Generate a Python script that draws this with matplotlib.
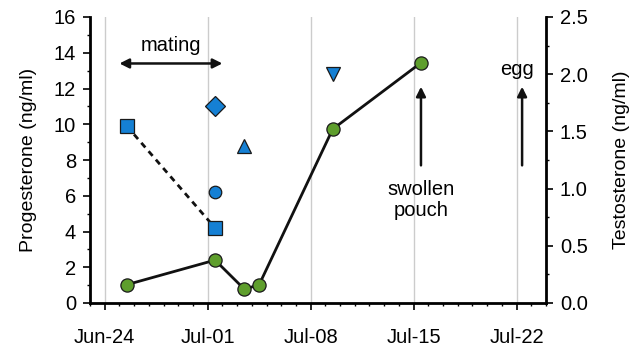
import datetime as dt
import matplotlib
matplotlib.use("Agg")
import matplotlib.pyplot as plt
import matplotlib.dates as mdates
from matplotlib.ticker import MultipleLocator, FormatStrFormatter

plt.rcParams['font.family'] = ['Liberation Sans', 'DejaVu Sans']

YEAR = 2013
def d(month, day, hour=12):
    return dt.datetime(YEAR, month, day, hour)

# Testosterone series (right axis, ng/ml)
t_dates = [d(6, 25), d(7, 1), d(7, 3), d(7, 4), d(7, 9), d(7, 15)]
t_values = [0.16, 0.375, 0.12, 0.16, 1.52, 2.10]

# Progesterone samples (left axis, ng/ml)
p_square_dates = [d(6, 25), d(7, 1)]
p_square_values = [9.9, 4.2]
p_circle_date, p_circle_value = d(7, 1), 6.2
p_diamond_date, p_diamond_value = d(7, 1), 11.0
p_triangle_date, p_triangle_value = d(7, 3), 8.8
p_invtri_date, p_invtri_value = d(7, 9), 12.8

week_ticks = [d(6, 24, 0), d(7, 1, 0), d(7, 8, 0), d(7, 15, 0), d(7, 22, 0)]

BLUE = '#1580d4'
GREEN = '#5e9e2c'
FS = 14.5
LFS = 14

fig = plt.figure(figsize=(6.34, 3.48), dpi=100)
ax = fig.add_axes([90/634, 1-303/348, (546-90)/634, (303-17)/348])
ax2 = ax.twinx()

ax.set_xlim(d(6, 23, 0), d(7, 24, 0))
ax.set_ylim(0, 16)
ax2.set_ylim(0, 2.5)

for t in week_ticks:
    ax.axvline(t, color='#cccccc', lw=1.0, zorder=0)

# progesterone
mk = dict(markeredgecolor='#1a1a1a', markeredgewidth=0.9, color=BLUE, linestyle='none', zorder=5)
ax.plot(p_square_dates, p_square_values, color='#111111', lw=2, ls=(0, (2.2, 1.8)), zorder=3)
ax.plot(p_square_dates, p_square_values, marker='s', markersize=10, **mk)
ax.plot([p_circle_date], [p_circle_value], marker='o', markersize=9, **mk)
ax.plot([p_diamond_date], [p_diamond_value], marker='D', markersize=10, **mk)
ax.plot([p_triangle_date], [p_triangle_value], marker='^', markersize=10, **mk)
ax.plot([p_invtri_date], [p_invtri_value], marker='v', markersize=10, **mk)

# testosterone
ax2.plot(t_dates, t_values, color='#111111', lw=2, marker='o', markersize=9.5,
         markerfacecolor=GREEN, markeredgecolor='#1a1a1a', markeredgewidth=0.9, zorder=5)

# annotations
arrow_kw = dict(arrowstyle='<|-|>', color='#111111', lw=1.8, mutation_scale=14, shrinkA=0, shrinkB=0)
ax.annotate('', xy=(d(6, 25, 0), 13.4), xytext=(d(7, 2, 0), 13.4), arrowprops=arrow_kw)
ax.text(d(6, 28, 12), 14.4, 'mating', ha='center', va='center', fontsize=FS)

up_kw = dict(arrowstyle='-|>', color='#111111', lw=1.8, mutation_scale=14, shrinkA=0, shrinkB=0)
ax.annotate('', xy=(d(7, 15), 12.1), xytext=(d(7, 15), 7.7), arrowprops=up_kw)
ax.text(d(7, 15), 5.75, 'swollen\npouch', ha='center', va='center', fontsize=FS, linespacing=1.1)
ax.annotate('', xy=(d(7, 22, 9), 12.1), xytext=(d(7, 22, 9), 7.7), arrowprops=up_kw)
ax.text(d(7, 22, 0), 13.05, 'egg', ha='center', va='center', fontsize=FS)

# axes styling
ax.set_xticks(week_ticks)
ax.xaxis.set_major_formatter(mdates.DateFormatter('%b-%d'))
ax.xaxis.set_minor_locator(mdates.DayLocator())
ax.yaxis.set_major_locator(MultipleLocator(2))
ax.yaxis.set_minor_locator(MultipleLocator(1))
ax2.yaxis.set_major_locator(MultipleLocator(0.5))
ax2.yaxis.set_minor_locator(MultipleLocator(0.25))
ax2.yaxis.set_major_formatter(FormatStrFormatter('%.1f'))

for a in (ax, ax2):
    a.spines['top'].set_visible(False)
    for s in a.spines.values():
        s.set_linewidth(2)
    a.tick_params(which='major', direction='out', length=5, width=1.2, labelsize=FS, pad=5)
    a.tick_params(which='minor', direction='out', length=2.5, width=1.0)
ax.tick_params(axis='x', which='major', pad=13)
ax.spines['right'].set_visible(False)
ax2.spines['left'].set_visible(False)
ax2.spines['bottom'].set_visible(False)

ax.set_ylabel('Progesterone (ng/ml)', fontsize=LFS, labelpad=12)
ax2.set_ylabel('Testosterone (ng/ml)', fontsize=LFS, labelpad=18)

fig.savefig('out.png', dpi=100)
